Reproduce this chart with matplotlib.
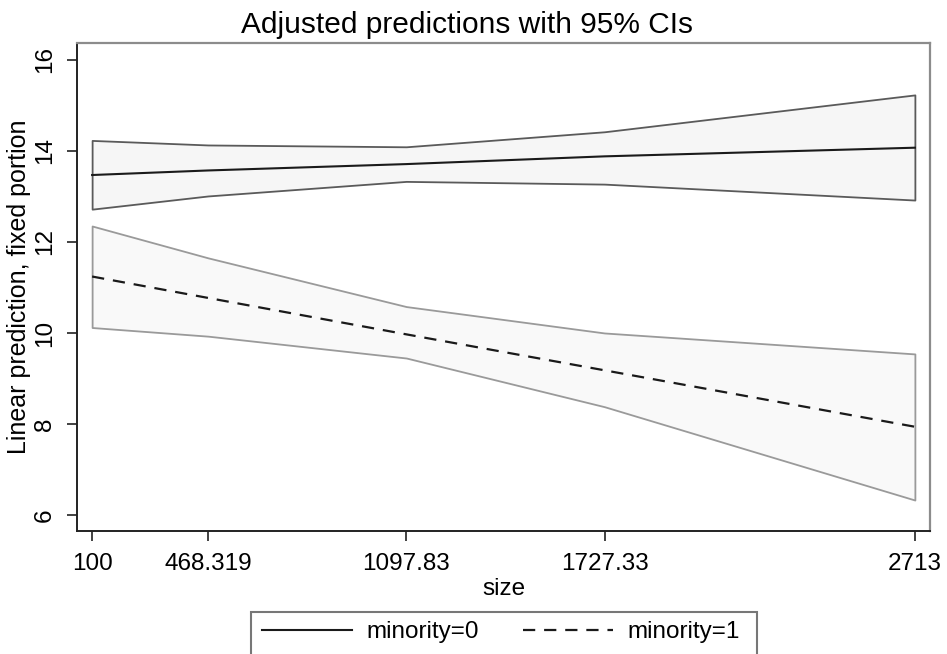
import numpy as np
import matplotlib.pyplot as plt
from matplotlib.patches import Rectangle

plt.rcParams['font.family'] = ['Liberation Sans', 'DejaVu Sans']

size = [100, 468.319, 1097.83, 1727.33, 2713]
xtick_labels = ['100', '468.319', '1097.83', '1727.33', '2713']

# minority = 0
est0 = [13.47, 13.57, 13.71, 13.88, 14.07]
lo0 = [12.72, 13.01, 13.33, 13.27, 12.92]
hi0 = [14.23, 14.13, 14.09, 14.42, 15.23]

# minority = 1
est1 = [11.24, 10.77, 9.97, 9.18, 7.94]
lo1 = [10.12, 9.93, 9.45, 8.38, 6.33]
hi1 = [12.35, 11.65, 10.58, 10.0, 9.54]

yticks = [6, 8, 10, 12, 14, 16]

W, H = 947, 654
fig = plt.figure(figsize=(W / 100, H / 100), dpi=100)
ax = fig.add_axes([77 / W, 1 - 531 / H, (930 - 77) / W, (531 - 43) / H])

ax.fill_between(size, lo0, hi0, facecolor='#f6f6f6', edgecolor='#5a5a5a', linewidth=1.3, zorder=1)
ax.fill_between(size, lo1, hi1, facecolor='#f9f9f9', edgecolor='#9a9a9a', linewidth=1.3, zorder=1)
l0, = ax.plot(size, est0, color='#1a1a1a', lw=1.5, zorder=3, label='minority=0')
l1, = ax.plot(size, est1, color='#1a1a1a', lw=1.6, dashes=(5.5, 4), zorder=3, label='minority=1')

ax.set_xlim(52, 2761)
ax.set_ylim(5.65, 16.37)
ax.set_xticks(size)
ax.set_xticklabels(xtick_labels)
ax.set_yticks(yticks)
ax.set_yticklabels([str(v) for v in yticks], rotation=90, va='center')

ax.tick_params(axis='both', labelsize=17.5, length=7, width=1.3, color='#333333')
ax.tick_params(axis='x', pad=9)
ax.tick_params(axis='y', pad=8)

for s in ['left', 'bottom']:
    ax.spines[s].set_color('#222222')
    ax.spines[s].set_linewidth(1.4)
for s in ['top', 'right']:
    ax.spines[s].set_color('#8c8c8c')
    ax.spines[s].set_linewidth(1.6)

ax.set_xlabel('size', fontsize=17.5, labelpad=2)
ax.set_ylabel('Linear prediction, fixed portion', fontsize=18, labelpad=2)
fig.text(467 / W, 1 - 33 / H, 'Adjusted predictions with 95% CIs',
         fontsize=21.5, ha='center', va='baseline')

# legend box runs past the bottom edge of the graph, as in the original
fig.patches.append(Rectangle((251 / W, -0.05), (757 - 251) / W, 1 - 612 / H + 0.05,
                             transform=fig.transFigure, facecolor='white',
                             edgecolor='#777777', linewidth=1.5, zorder=0))
fig.legend(handles=[l0, l1], loc='center', ncol=2,
           bbox_to_anchor=(0.529, 1 - 632 / H), fontsize=17.5,
           frameon=False, handlelength=3.7, handletextpad=0.6,
           columnspacing=1.8, borderpad=0, borderaxespad=0)

fig.savefig('out.png', dpi=100)
